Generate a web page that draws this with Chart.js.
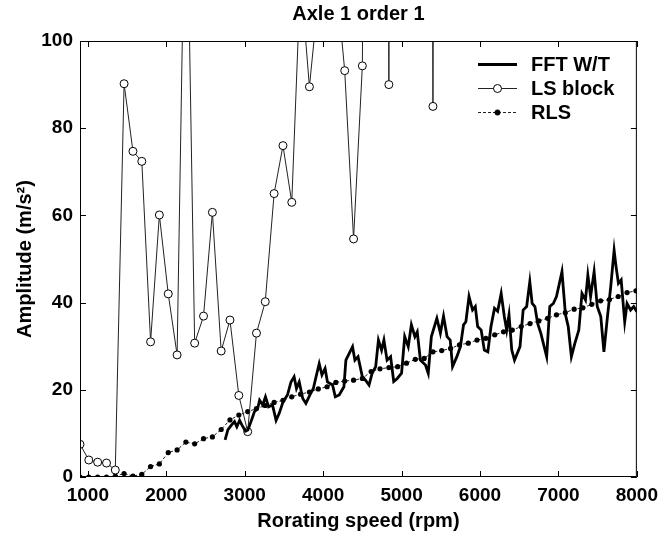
<!DOCTYPE html>
<html>
<head>
<meta charset="utf-8">
<script src="https://cdn.jsdelivr.net/npm/chart.js@4.4.1/dist/chart.umd.min.js"></script>
<style>
  html, body { margin: 0; padding: 0; background: #fff; }
  #wrap { width: 665px; height: 537px; }
</style>
</head>
<body>
<div id="wrap"><canvas id="axleChart" width="665" height="537"></canvas></div>
<script>
// tick labels
const xTicks = [1000, 2000, 3000, 4000, 5000, 6000, 7000, 8000];
const yTicks = [0, 20, 40, 60, 80, 100];

// block speeds (rpm) shared by LS block and RLS
const blockRpm = [900, 1012, 1125, 1238, 1350, 1462, 1575, 1688, 1800, 1912,
  2025, 2138, 2250, 2362, 2475, 2588, 2700, 2812, 2925, 3038,
  3150, 3262, 3375, 3488, 3600, 3712, 3825, 3938, 4050, 4162,
  4275, 4388, 4500, 4612, 4725, 4838, 4950, 5062, 5175, 5288,
  5400, 5512, 5625, 5738, 5850, 5962, 6075, 6188, 6300, 6412,
  6525, 6638, 6750, 6862, 6975, 7088, 7200, 7312, 7425, 7538,
  7650, 7762, 7875, 7988];

// LS block: values above 100 run off the top of the plot
const lsAmp = [7.5, 3.9, 3.4, 3.2, 1.6, 90.2, 74.7, 72.4, 31, 60.1,
  42, 28, 150, 30.7, 36.9, 60.7, 28.9, 36, 18.7, 10.4,
  33, 40.2, 65, 76, 63, 115, 89.5, 110, 130, 115,
  93.2, 54.6, 94.3, 400, 600, 90, 600, 500, 500, 700,
  85, 700];

// RLS
const rlsAmp = [0, 0, 0, 0, 0.2, 0.8, 0.2, 0.6, 2.4, 3.0,
  5.6, 6.2, 8.0, 7.6, 8.8, 9.2, 10.9, 13.1, 14.2, 15.0,
  15.7, 16.4, 17.1, 17.6, 18.4, 19.0, 19.5, 20.2, 20.7, 21.7,
  22.0, 22.2, 22.6, 24.2, 24.8, 25.1, 25.3, 26.1, 27.0, 27.2,
  28.7, 29.0, 29.5, 30.3, 30.7, 31.4, 31.8, 32.6, 33.3, 33.7,
  34.5, 35.2, 35.8, 36.4, 37.2, 37.7, 38.5, 38.8, 39.6, 40.4,
  40.7, 41.4, 42.3, 42.7];

// FFT W/T
const fftRpm = [2750, 2785, 2830, 2870, 2900, 2935, 2965, 3010, 3040, 3080,
  3125, 3165, 3190, 3230, 3265, 3305, 3355, 3400, 3440, 3490,
  3545, 3590, 3630, 3660, 3695, 3740, 3780, 3830, 3875, 3915,
  3950, 3985, 4025, 4055, 4120, 4155, 4205, 4265, 4290, 4375,
  4405, 4445, 4500, 4540, 4585, 4625, 4670, 4705, 4745, 4775,
  4815, 4860, 4900, 4945, 5000, 5040, 5085, 5125, 5170, 5200,
  5240, 5305, 5340, 5380, 5450, 5495, 5535, 5580, 5620, 5650,
  5705, 5750, 5790, 5820, 5860, 5905, 5940, 5970, 6015, 6055,
  6100, 6140, 6185, 6225, 6270, 6310, 6340, 6370, 6405, 6440,
  6510, 6550, 6595, 6635, 6665, 6700, 6735, 6775, 6850, 6890,
  6935, 6975, 7045, 7090, 7125, 7165, 7210, 7260, 7300, 7345,
  7375, 7410, 7455, 7495, 7540, 7580, 7625, 7665, 7710, 7735,
  7765, 7800, 7845, 7875, 7920, 7960, 8000];
const fftAmp = [8.5, 10.8, 11.9, 12.7, 11.5, 13.0, 11.9, 10.5, 10.8, 12.7,
  15.0, 15.7, 17.6, 16.5, 18.4, 16.1, 16.5, 13.0, 14.6, 17.3,
  18.8, 21.8, 23.0, 20.3, 21.8, 18.0, 16.9, 18.8, 20.3, 23.4,
  26.0, 23.4, 24.9, 21.8, 21.1, 18.4, 18.8, 20.7, 26.8, 29.9,
  26.8, 27.6, 23.0, 22.2, 21.1, 23.8, 25.3, 31.4, 29.1, 31.4,
  26.8, 27.6, 21.9, 22.6, 23.8, 32.2, 29.9, 34.9, 32.2, 33.3,
  26.8, 25.7, 23.8, 32.2, 36.4, 33.0, 36.9, 32.2, 31.4, 25.3,
  27.6, 29.9, 34.9, 35.6, 41.4, 38.3, 39.1, 34.5, 33.7, 29.1,
  28.7, 34.5, 38.7, 38.0, 42.1, 36.8, 33.7, 37.2, 29.1, 26.8,
  29.9, 38.3, 39.1, 44.8, 39.8, 39.1, 35.2, 33.0, 27.6, 39.1,
  39.8, 41.4, 47.1, 37.2, 34.5, 27.6, 30.7, 33.7, 42.1, 40.6,
  46.3, 41.4, 47.1, 39.1, 36.8, 28.7, 36.8, 43.3, 52.0, 48.2,
  44.4, 45.2, 35.6, 39.8, 38.3, 39.1, 37.9];

const FONT = '"Liberation Sans", Arial, Helvetica, sans-serif';
Chart.defaults.font.family = FONT;
Chart.defaults.font.weight = 'bold';
Chart.defaults.font.size = 19;
Chart.defaults.color = '#000';

function pairs(xs, ys) {
  return ys.map((v, i) => ({ x: xs[i], y: v }));
}

// box, inward ticks and legend inside the plot (matlab look)
const framePlugin = {
  id: 'frame',
  afterDraw(chart) {
    const { ctx, chartArea: a, scales: { x, y } } = chart;
    ctx.save();
    ctx.strokeStyle = '#000';
    ctx.lineWidth = 1;
    ctx.strokeRect(a.left + 0.5, a.top + 0.5, a.right - a.left - 1, a.bottom - a.top - 1);
    const t = 6;
    ctx.beginPath();
    xTicks.forEach(v => {
      const p = Math.round(x.getPixelForValue(v)) + 0.5;
      ctx.moveTo(p, a.bottom); ctx.lineTo(p, a.bottom - t);
      ctx.moveTo(p, a.top); ctx.lineTo(p, a.top + t);
    });
    yTicks.forEach(v => {
      const p = Math.round(y.getPixelForValue(v)) + 0.5;
      ctx.moveTo(a.left, p); ctx.lineTo(a.left + t, p);
      ctx.moveTo(a.right, p); ctx.lineTo(a.right - t, p);
    });
    ctx.stroke();

    // legend
    const lx0 = 478, lx1 = 517, tx = 531;
    let ly = 64;
    chart.data.datasets.forEach(ds => {
      ctx.strokeStyle = ds.borderColor;
      ctx.lineWidth = ds.borderWidth;
      ctx.setLineDash(ds.borderDash || []);
      ctx.beginPath();
      ctx.moveTo(lx0, ly + 0.5); ctx.lineTo(lx1, ly + 0.5);
      ctx.stroke();
      ctx.setLineDash([]);
      if (ds.pointRadius > 0) {
        ctx.beginPath();
        ctx.arc((lx0 + lx1) / 2, ly + 0.5, ds.pointRadius, 0, Math.PI * 2);
        ctx.fillStyle = ds.pointBackgroundColor;
        ctx.fill();
        ctx.lineWidth = 1;
        ctx.strokeStyle = ds.pointBorderColor;
        ctx.stroke();
      }
      ctx.fillStyle = '#000';
      ctx.font = 'bold 20px ' + FONT;
      ctx.textBaseline = 'middle';
      ctx.fillText(ds.label, tx, ly + 1);
      ly += 24;
    });
    ctx.restore();
  }
};

new Chart(document.getElementById('axleChart'), {
  type: 'line',
  data: {
    datasets: [
      {
        label: 'FFT W/T',
        data: pairs(fftRpm, fftAmp),
        borderColor: '#000',
        borderWidth: 2.8,
        pointRadius: 0,
        tension: 0
      },
      {
        label: 'LS block',
        data: pairs(blockRpm, lsAmp),
        borderColor: '#222',
        borderWidth: 1,
        pointRadius: 4,
        pointBackgroundColor: '#fff',
        pointBorderColor: '#000',
        pointBorderWidth: 1,
        tension: 0
      },
      {
        label: 'RLS',
        data: pairs(blockRpm, rlsAmp),
        borderColor: '#222',
        borderWidth: 1,
        borderDash: [3, 2],
        pointRadius: 2.6,
        pointBackgroundColor: '#000',
        pointBorderColor: '#000',
        pointBorderWidth: 0,
        tension: 0
      }
    ]
  },
  options: {
    responsive: false,
    animation: false,
    layout: { padding: { left: 0, right: 26, top: 0, bottom: 0 } },
    plugins: {
      legend: { display: false },
      tooltip: { enabled: false },
      title: {
        display: true,
        text: 'Axle 1 order 1',
        fullSize: false,
        font: { size: 20, weight: 'bold' },
        padding: { top: 2, bottom: 15 }
      }
    },
    scales: {
      x: {
        type: 'linear',
        min: 900,
        max: 8000,
        grid: { display: false, drawTicks: false },
        border: { display: false },
        afterBuildTicks: s => { s.ticks = xTicks.map(v => ({ value: v })); },
        afterFit: s => { s.height = 60; },
        ticks: { padding: 7, font: { size: 19 }, callback: v => String(v) },
        title: {
          display: true,
          text: 'Rorating speed (rpm)',
          font: { size: 20, weight: 'bold' },
          padding: { top: 0, bottom: 4 }
        }
      },
      y: {
        min: 0,
        max: 100,
        grid: { display: false, drawTicks: false },
        border: { display: false },
        afterBuildTicks: s => { s.ticks = yTicks.map(v => ({ value: v })); },
        afterFit: s => { s.width = 80; },
        ticks: { padding: 7, font: { size: 19 }, callback: v => String(v) },
        title: {
          display: true,
          text: 'Amplitude (m/s\u00B2)',
          font: { size: 20, weight: 'bold' },
          padding: { top: 13, bottom: 0 }
        }
      }
    }
  },
  plugins: [framePlugin]
});
</script>
</body>
</html>
